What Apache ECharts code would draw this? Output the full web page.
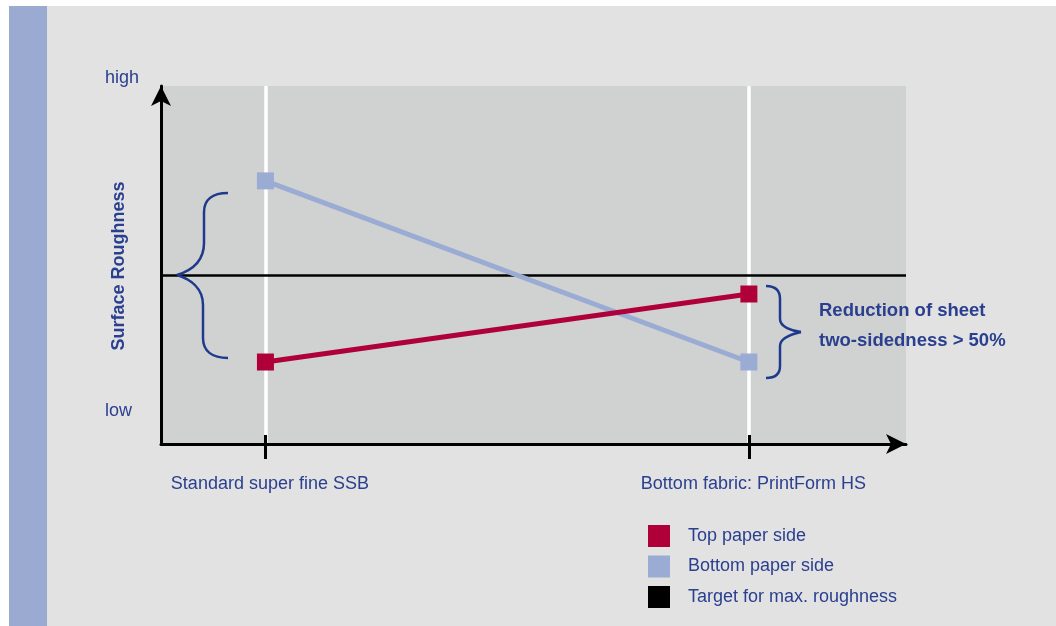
<!DOCTYPE html>
<html>
<head>
<meta charset="utf-8">
<script src="https://cdn.jsdelivr.net/npm/echarts@6/dist/echarts.min.js"></script>
<style>
  html, body { margin: 0; padding: 0; background: #ffffff; }
  #strip { position: absolute; left: 9px; top: 6px; width: 38px; height: 620px; background: #9aaad0; }
  #panel { position: absolute; left: 47px; top: 6px; width: 1009px; height: 620px; background: #e2e2e2; }
  #chart { position: absolute; left: 0; top: 0; width: 1056px; height: 626px; }
</style>
</head>
<body>
<div id="strip"></div>
<div id="panel"></div>
<div id="chart"></div>
<script>
// ---- data ----
const categories = ['Standard super fine SSB', 'Bottom fabric: PrintForm HS'];
const seriesNames = ['Top paper side', 'Bottom paper side', 'Target for max. roughness'];
const topSide = [22.9, 41.9];
const bottomSide = [73.5, 22.9];
const targetValue = 47.2;
const yTickLabels = ['low', 'high'];
const yAxisTitle = 'Surface Roughness';
const noteLines = ['Reduction of sheet', 'two-sidedness > 50%'];

// ---- styling ----
const FONT = "'Liberation Sans Narrow', 'Liberation Sans', Arial, sans-serif";
const TEXT = '#2a3f8f';
const RED = '#b0003a';
const BLUE = '#9aacd3';
const BRACE = '#1f3a8c';
const catIdx = categories.map((c, i) => i);

const chart = echarts.init(document.getElementById('chart'), null, { renderer: 'canvas' });

const toPoints = arr => arr.map((v, i) => [i, v]);

// brace drawing helper: segments of ['C', x0,y0, c1x,c1y, c2x,c2y, x1,y1] or ['L', x0,y0,x1,y1]
function braceElements(segs) {
  return segs.map(s => {
    if (s[0] === 'C') {
      return { type: 'bezierCurve', z: 10, silent: true,
        shape: { x1: s[1], y1: s[2], cpx1: s[3], cpy1: s[4], cpx2: s[5], cpy2: s[6], x2: s[7], y2: s[8] },
        style: { fill: null, stroke: BRACE, lineWidth: 2.5 } };
    }
    return { type: 'line', z: 10, silent: true,
      shape: { x1: s[1], y1: s[2], x2: s[3], y2: s[4] },
      style: { stroke: BRACE, lineWidth: 2.5 } };
  });
}
const leftBrace = braceElements([
  ['C', 228, 193, 212, 193, 204, 200, 204, 212],
  ['L', 204, 212, 204, 243],
  ['C', 204, 243, 204, 262, 190, 271, 177, 275],
  ['C', 177, 275, 190, 279, 203, 288, 203, 305],
  ['L', 203, 305, 203, 338],
  ['C', 203, 338, 203, 351, 212, 358, 228, 358]
]);
const rightBrace = braceElements([
  ['C', 766, 286, 776, 286, 780, 291, 780, 299],
  ['L', 780, 299, 780, 319],
  ['C', 780, 319, 780, 327, 792, 331, 801, 332],
  ['C', 801, 332, 792, 334, 780, 338, 780, 346],
  ['L', 780, 346, 780, 366],
  ['C', 780, 366, 780, 374, 776, 378, 766, 378]
]);

const option = {
  backgroundColor: 'transparent',
  animation: false,
  textStyle: { fontFamily: FONT },
  grid: {
    left: 161, right: 150, top: 86, bottom: 182,
    show: true, backgroundColor: '#d0d2d1', borderWidth: 0, containLabel: false
  },
  legend: {
    orient: 'vertical',
    left: 648, top: 525, padding: 0,
    itemWidth: 22, itemHeight: 22, itemGap: 8.5,
    icon: 'rect',
    selectedMode: false,
    textStyle: { color: TEXT, fontSize: 18, fontFamily: FONT, padding: [0, 0, 0, 13] },
    data: seriesNames
  },
  xAxis: [
    {
      type: 'value', min: -0.216, max: 1.325, z: 5,
      axisLine: { show: true, onZero: false, lineStyle: { color: '#000', width: 3 }, symbol: ['none', 'arrow'], symbolSize: [15, 20], symbolOffset: [0, 0] },
      axisTick: { show: true, customValues: catIdx, length: 15, lineStyle: { color: '#000', width: 3 } },
      axisLabel: {
        show: true, customValues: catIdx, margin: 31,
        color: TEXT, fontSize: 18, fontFamily: FONT, padding: [0, 0, 0, 9],
        formatter: v => categories[Math.round(v)] || ''
      },
      splitLine: { show: false }
    },
    {
      type: 'value', min: -0.216, max: 1.325, z: 5, position: 'bottom',
      axisLine: { show: false, onZero: false },
      axisTick: { show: true, inside: true, customValues: catIdx, length: 9, lineStyle: { color: '#000', width: 3 } },
      axisLabel: { show: false },
      splitLine: { show: false }
    }
  ],
  yAxis: {
    type: 'value', min: 0, max: 100, z: 5,
    axisLine: { show: true, onZero: false, lineStyle: { color: '#000', width: 3 }, symbol: ['none', 'arrow'], symbolSize: [15, 20], symbolOffset: [0, 0] },
    axisTick: { show: false },
    axisLabel: { show: false },
    splitLine: { show: false }
  },
  series: [
    {
      name: seriesNames[2],
      type: 'line',
      data: [],
      color: '#000',
      itemStyle: { color: '#000' },
      z: 1,
      markLine: {
        silent: true, symbol: 'none', animation: false, z: 1,
        label: { show: false },
        lineStyle: { color: '#000', width: 2.5, type: 'solid' },
        data: [{ yAxis: targetValue }]
      }
    },
    {
      name: 'catLines',
      type: 'line',
      data: [],
      z: 0,
      markLine: {
        silent: true, symbol: 'none', animation: false, z: 0,
        label: { show: false },
        lineStyle: { color: '#ffffff', width: 3.5, type: 'solid' },
        data: catIdx.map(i => ({ xAxis: i }))
      }
    },
    {
      name: seriesNames[1],
      type: 'line',
      data: toPoints(bottomSide),
      color: BLUE,
      symbol: 'rect', symbolSize: 17,
      itemStyle: { color: BLUE },
      lineStyle: { color: BLUE, width: 5 },
      z: 3
    },
    {
      name: seriesNames[0],
      type: 'line',
      data: toPoints(topSide),
      color: RED,
      symbol: 'rect', symbolSize: 17,
      itemStyle: { color: RED },
      lineStyle: { color: RED, width: 5 },
      z: 4
    }
  ],
  graphic: [
    { type: 'text', x: 105, y: 78, style: { text: yTickLabels[1], fill: TEXT, font: '18px ' + FONT, verticalAlign: 'middle' } },
    { type: 'text', x: 105, y: 411, style: { text: yTickLabels[0], fill: TEXT, font: '18px ' + FONT, verticalAlign: 'middle' } },
    {
      type: 'text', x: 119, y: 266, rotation: Math.PI / 2,
      style: { text: yAxisTitle, fill: TEXT, font: 'bold 18px ' + FONT, align: 'center', verticalAlign: 'middle' }
    },
    ...leftBrace,
    ...rightBrace,
    { type: 'text', x: 819, y: 311, z: 10, style: { text: noteLines[0], fill: TEXT, font: 'bold 18.5px ' + FONT, verticalAlign: 'middle' } },
    { type: 'text', x: 819, y: 341, z: 10, style: { text: noteLines[1], fill: TEXT, font: 'bold 18.5px ' + FONT, verticalAlign: 'middle' } }
  ]
};

chart.setOption(option);
</script>
</body>
</html>
